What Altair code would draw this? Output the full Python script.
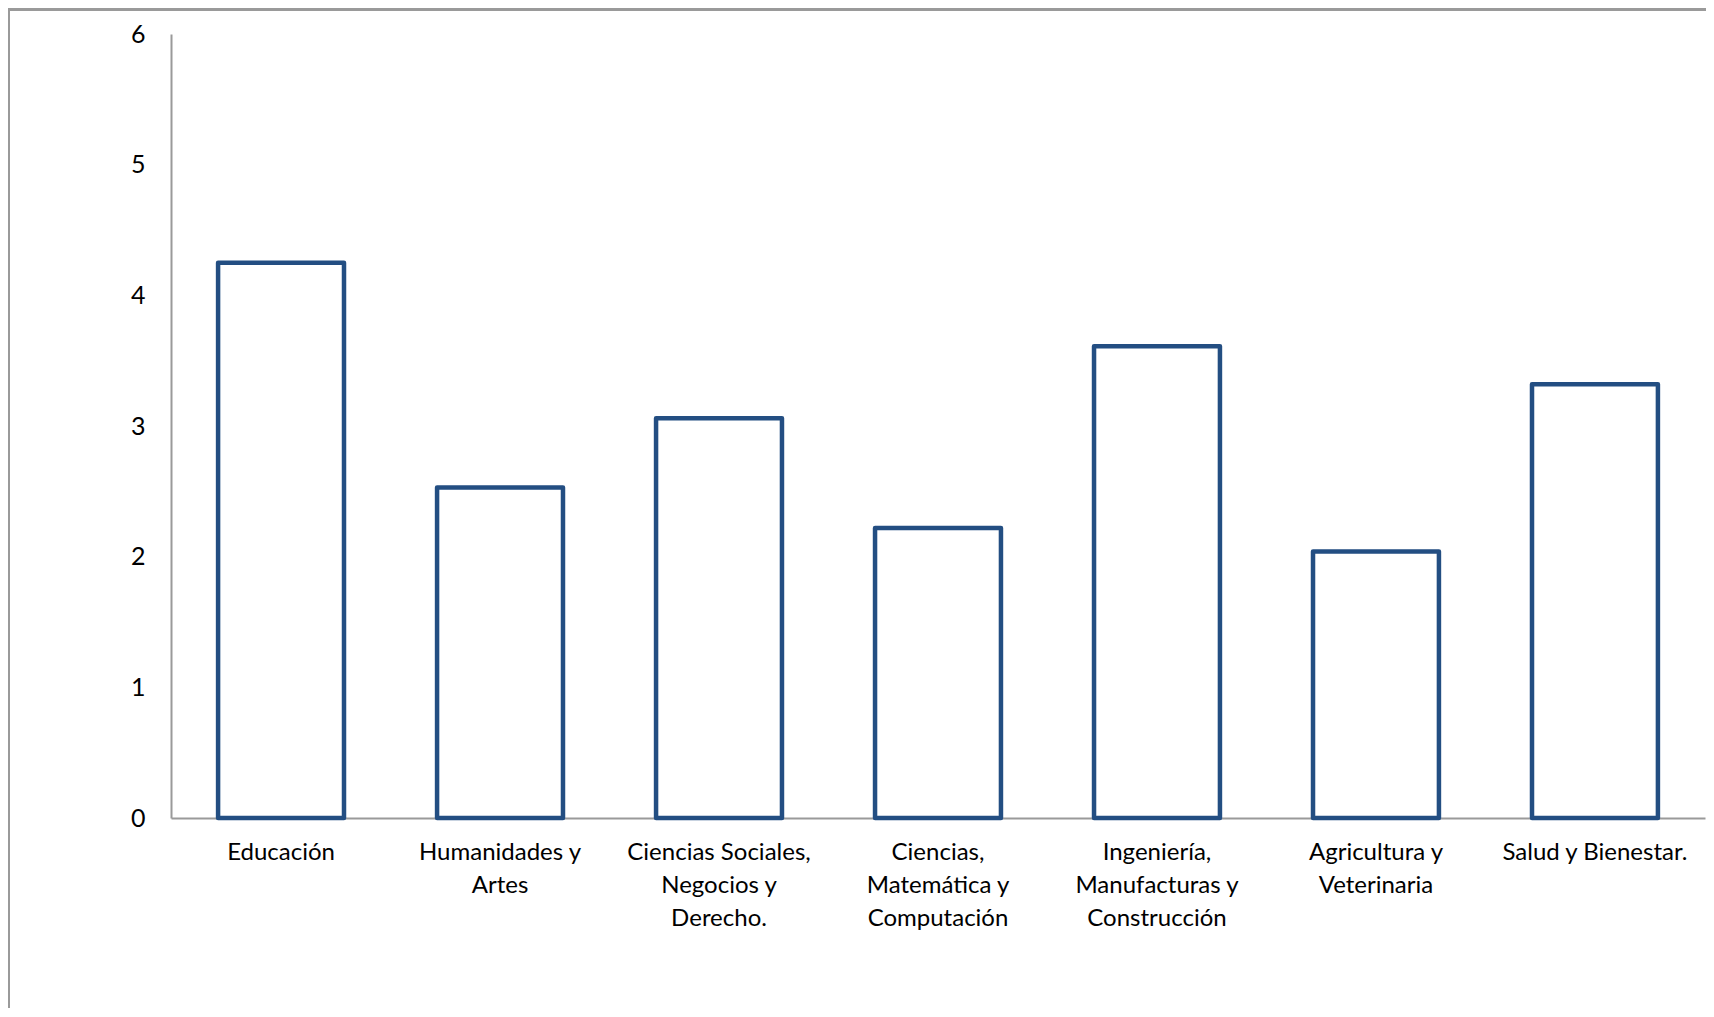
import altair as alt
import pandas as pd

categories = [
    "Educación",
    "Humanidades y Artes",
    "Ciencias Sociales, Negocios y Derecho.",
    "Ciencias, Matemática y Computación",
    "Ingeniería, Manufacturas y Construcción",
    "Agricultura y Veterinaria",
    "Salud y Bienestar.",
]
label_lines = [
    ["Educación"],
    ["Humanidades y", "Artes"],
    ["Ciencias Sociales,", "Negocios y", "Derecho."],
    ["Ciencias,", "Matemática y", "Computación"],
    ["Ingeniería,", "Manufacturas y", "Construcción"],
    ["Agricultura y", "Veterinaria"],
    ["Salud y Bienestar."],
]
values = [4.25, 2.53, 3.06, 2.22, 3.61, 2.04, 3.32]
y_ticks = [0, 1, 2, 3, 4, 5, 6]

df = pd.DataFrame({"cat": categories, "val": values})

# label expression mapping category to wrapped lines
expr = "''"
for c, lines in zip(reversed(categories), reversed(label_lines)):
    arr = "[" + ",".join("'" + l + "'" for l in lines) + "]"
    expr = f"datum.value === '{c}' ? {arr} : ({expr})"

W, H = 1534, 784
FONT = "Lato"
BLUE = "#234E82"
GRAY = "#9a9a9a"

bars = alt.Chart(df).mark_bar(
    fill="white", stroke=BLUE, strokeWidth=4.5, strokeJoin="round"
).encode(
    x=alt.X(
        "cat:N",
        sort=categories,
        scale=alt.Scale(paddingInner=0.425, paddingOuter=0.215),
        axis=alt.Axis(
            title=None, labelAngle=0, ticks=False, domain=True,
            domainColor=GRAY, domainWidth=2, labelExpr=expr,
            labelFont=FONT, labelFontSize=24, labelColor="black",
            labelLineHeight=33, labelPadding=22, labelBaseline="top",
            labelLimit=300,
        ),
    ),
    y=alt.Y(
        "val:Q",
        scale=alt.Scale(domain=[0, 6], nice=False),
        axis=alt.Axis(
            title=None, values=y_ticks, ticks=False, grid=False,
            domainColor=GRAY, domainWidth=2, labelFont=FONT,
            labelFontSize=25, labelColor="black", labelPadding=26,
            format="d",
        ),
    ),
)

border_left = alt.Chart(df).mark_rule(color=GRAY, strokeWidth=2).encode(
    x=alt.value(-162), y=alt.value(-24.5), y2=alt.value(H + 200)
)
border_top = alt.Chart(df).mark_rule(color=GRAY, strokeWidth=2).encode(
    x=alt.value(-163), x2=alt.value(W + 10), y=alt.value(-24.5)
)

chart = alt.layer(bars, border_left, border_top).properties(
    width=W, height=H,
    autosize=alt.AutoSizeParams(type="none"),
    padding={"left": 163, "top": 26, "right": 1, "bottom": 190},
).configure(background="white").configure_view(strokeWidth=0)

chart.save("out.html", embed_options={"renderer": "svg", "actions": False})
